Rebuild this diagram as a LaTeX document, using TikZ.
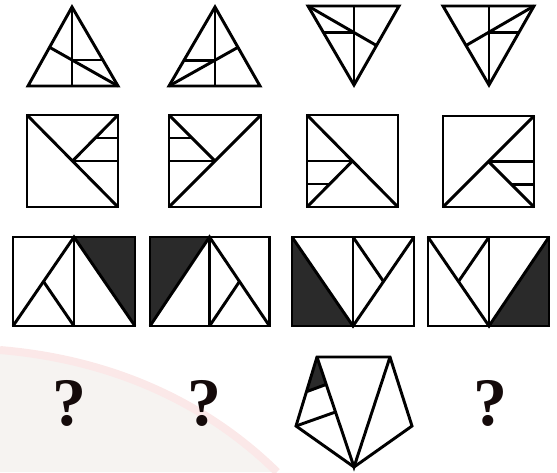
\documentclass[tikz,border=0pt]{standalone}
\usepackage{fontspec}
\setmainfont{Liberation Serif}
\definecolor{darkfill}{HTML}{2A2A2A}
\definecolor{wmgray}{HTML}{F6F3F1}
\definecolor{wmpink}{HTML}{FBE8E8}
\definecolor{qmark}{HTML}{140A0A}
\tikzset{
  fig/.style={line width=2.2pt, line join=miter, draw=black},
  dark/.style={fill=darkfill, draw=none},
  qm/.style={font=\bfseries\fontsize{51}{51}\selectfont, text=qmark, inner sep=0pt}
}
\begin{document}
\begin{tikzpicture}[x=0.75pt,y=-0.75pt]
\useasboundingbox (0,0) rectangle (557,472);
% faint watermark
\fill[wmgray] (0,352) .. controls (120,362) and (210,410) .. (275,472) -- (0,472) -- cycle;
\draw[wmpink, line width=6pt] (0,350) .. controls (120,360) and (212,408) .. (277,472);

% ---------- Row 1: triangles ----------
% T1
\draw[fig] (72,7) -- (28,86) -- (118,86) -- cycle;
\draw[fig] (72,7) -- (72,86);
\draw[fig] (49.6,47.3) -- (118,86);
\draw[fig] (72,60) -- (102.9,60);
% T2
\draw[fig] (215,7) -- (169,86) -- (260,86) -- cycle;
\draw[fig] (215,7) -- (215,86);
\draw[fig] (169,86) -- (238,47.3);
\draw[fig] (184,60.2) -- (215,60.2);
% T3
\draw[fig] (308,6) -- (399,6) -- (354,85) -- cycle;
\draw[fig] (354,6) -- (354,85);
\draw[fig] (308,6) -- (376.5,45.5);
\draw[fig] (323.4,32.5) -- (354,32.5);
% T4
\draw[fig] (443,6) -- (534,6) -- (489,85) -- cycle;
\draw[fig] (489,6) -- (489,85);
\draw[fig] (534,6) -- (466,45.5);
\draw[fig] (489,32.1) -- (519.1,32.1);

% ---------- Row 2: squares ----------
% S1
\draw[fig] (27,115) rectangle (118,207);
\draw[fig] (27,115) -- (118,207);
\draw[fig] (118,115) -- (72.5,161);
\draw[fig] (72.5,161) -- (118,161);
\draw[fig] (95.25,138) -- (118,138);
% S2
\draw[fig] (169,115) rectangle (261,207);
\draw[fig] (169,207) -- (261,115);
\draw[fig] (169,115) -- (215,161);
\draw[fig] (169,161) -- (215,161);
\draw[fig] (169,138) -- (192,138);
% S3
\draw[fig] (307,115) rectangle (398,207);
\draw[fig] (307,115) -- (398,207);
\draw[fig] (307,207) -- (352.5,161);
\draw[fig] (307,161) -- (352.5,161);
\draw[fig] (307,184) -- (329.75,184);
% S4
\draw[fig] (443,116) rectangle (534,207);
\draw[fig] (443,207) -- (534,116);
\draw[fig] (534,207) -- (488.5,161.5);
\draw[fig] (488.5,161.5) -- (534,161.5);
\draw[fig] (511.25,184.25) -- (534,184.25);

% ---------- Row 3: rectangles ----------
% R1
\fill[dark] (74,237) -- (135,237) -- (135,326) -- cycle;
\draw[fig] (13,237) rectangle (135,326);
\draw[fig] (74,237) -- (74,326);
\draw[fig] (13,326) -- (74,237) -- (135,326);
\draw[fig] (43.5,281.5) -- (74,326);
% R2
\fill[dark] (150,237) -- (209.5,237) -- (150,326) -- cycle;
\draw[fig] (150,237) rectangle (269.5,326);
\draw[fig] (209.5,237) -- (209.5,326);
\draw[fig] (150,326) -- (209.5,237) -- (269.5,326);
\draw[fig] (239.5,281.5) -- (209.5,326);
% R3
\fill[dark] (292,237) -- (292,326) -- (353,326) -- cycle;
\draw[fig] (292,237) rectangle (414,326);
\draw[fig] (353,237) -- (353,326);
\draw[fig] (292,237) -- (353,326) -- (414,237);
\draw[fig] (353,237) -- (383.5,281.5);
% R4
\fill[dark] (489,326) -- (549,326) -- (549,237) -- cycle;
\draw[fig] (428,237) rectangle (549,326);
\draw[fig] (489,237) -- (489,326);
\draw[fig] (428,237) -- (489,326) -- (549,237);
\draw[fig] (489,237) -- (458.5,281.5);

% ---------- Row 4 ----------
\node[qm] (q1) at (69,403.5) {?};
\node[qm] (q2) at (204,403.5) {?};
\node[qm] (q3) at (490,403.5) {?};
% pentagon
\fill[dark] (317,357) -- (307,391.5) -- (326,384.5) -- cycle;
\draw[fig] (317,357) -- (390,357) -- (412,426) -- (354,467) -- (296,426) -- cycle;
\draw[fig] (317,357) -- (354,467) -- (390,357);
\draw[fig] (296,426) -- (335.5,412);
\draw[fig] (307,391.5) -- (326,384.5);
\end{tikzpicture}
\end{document}
